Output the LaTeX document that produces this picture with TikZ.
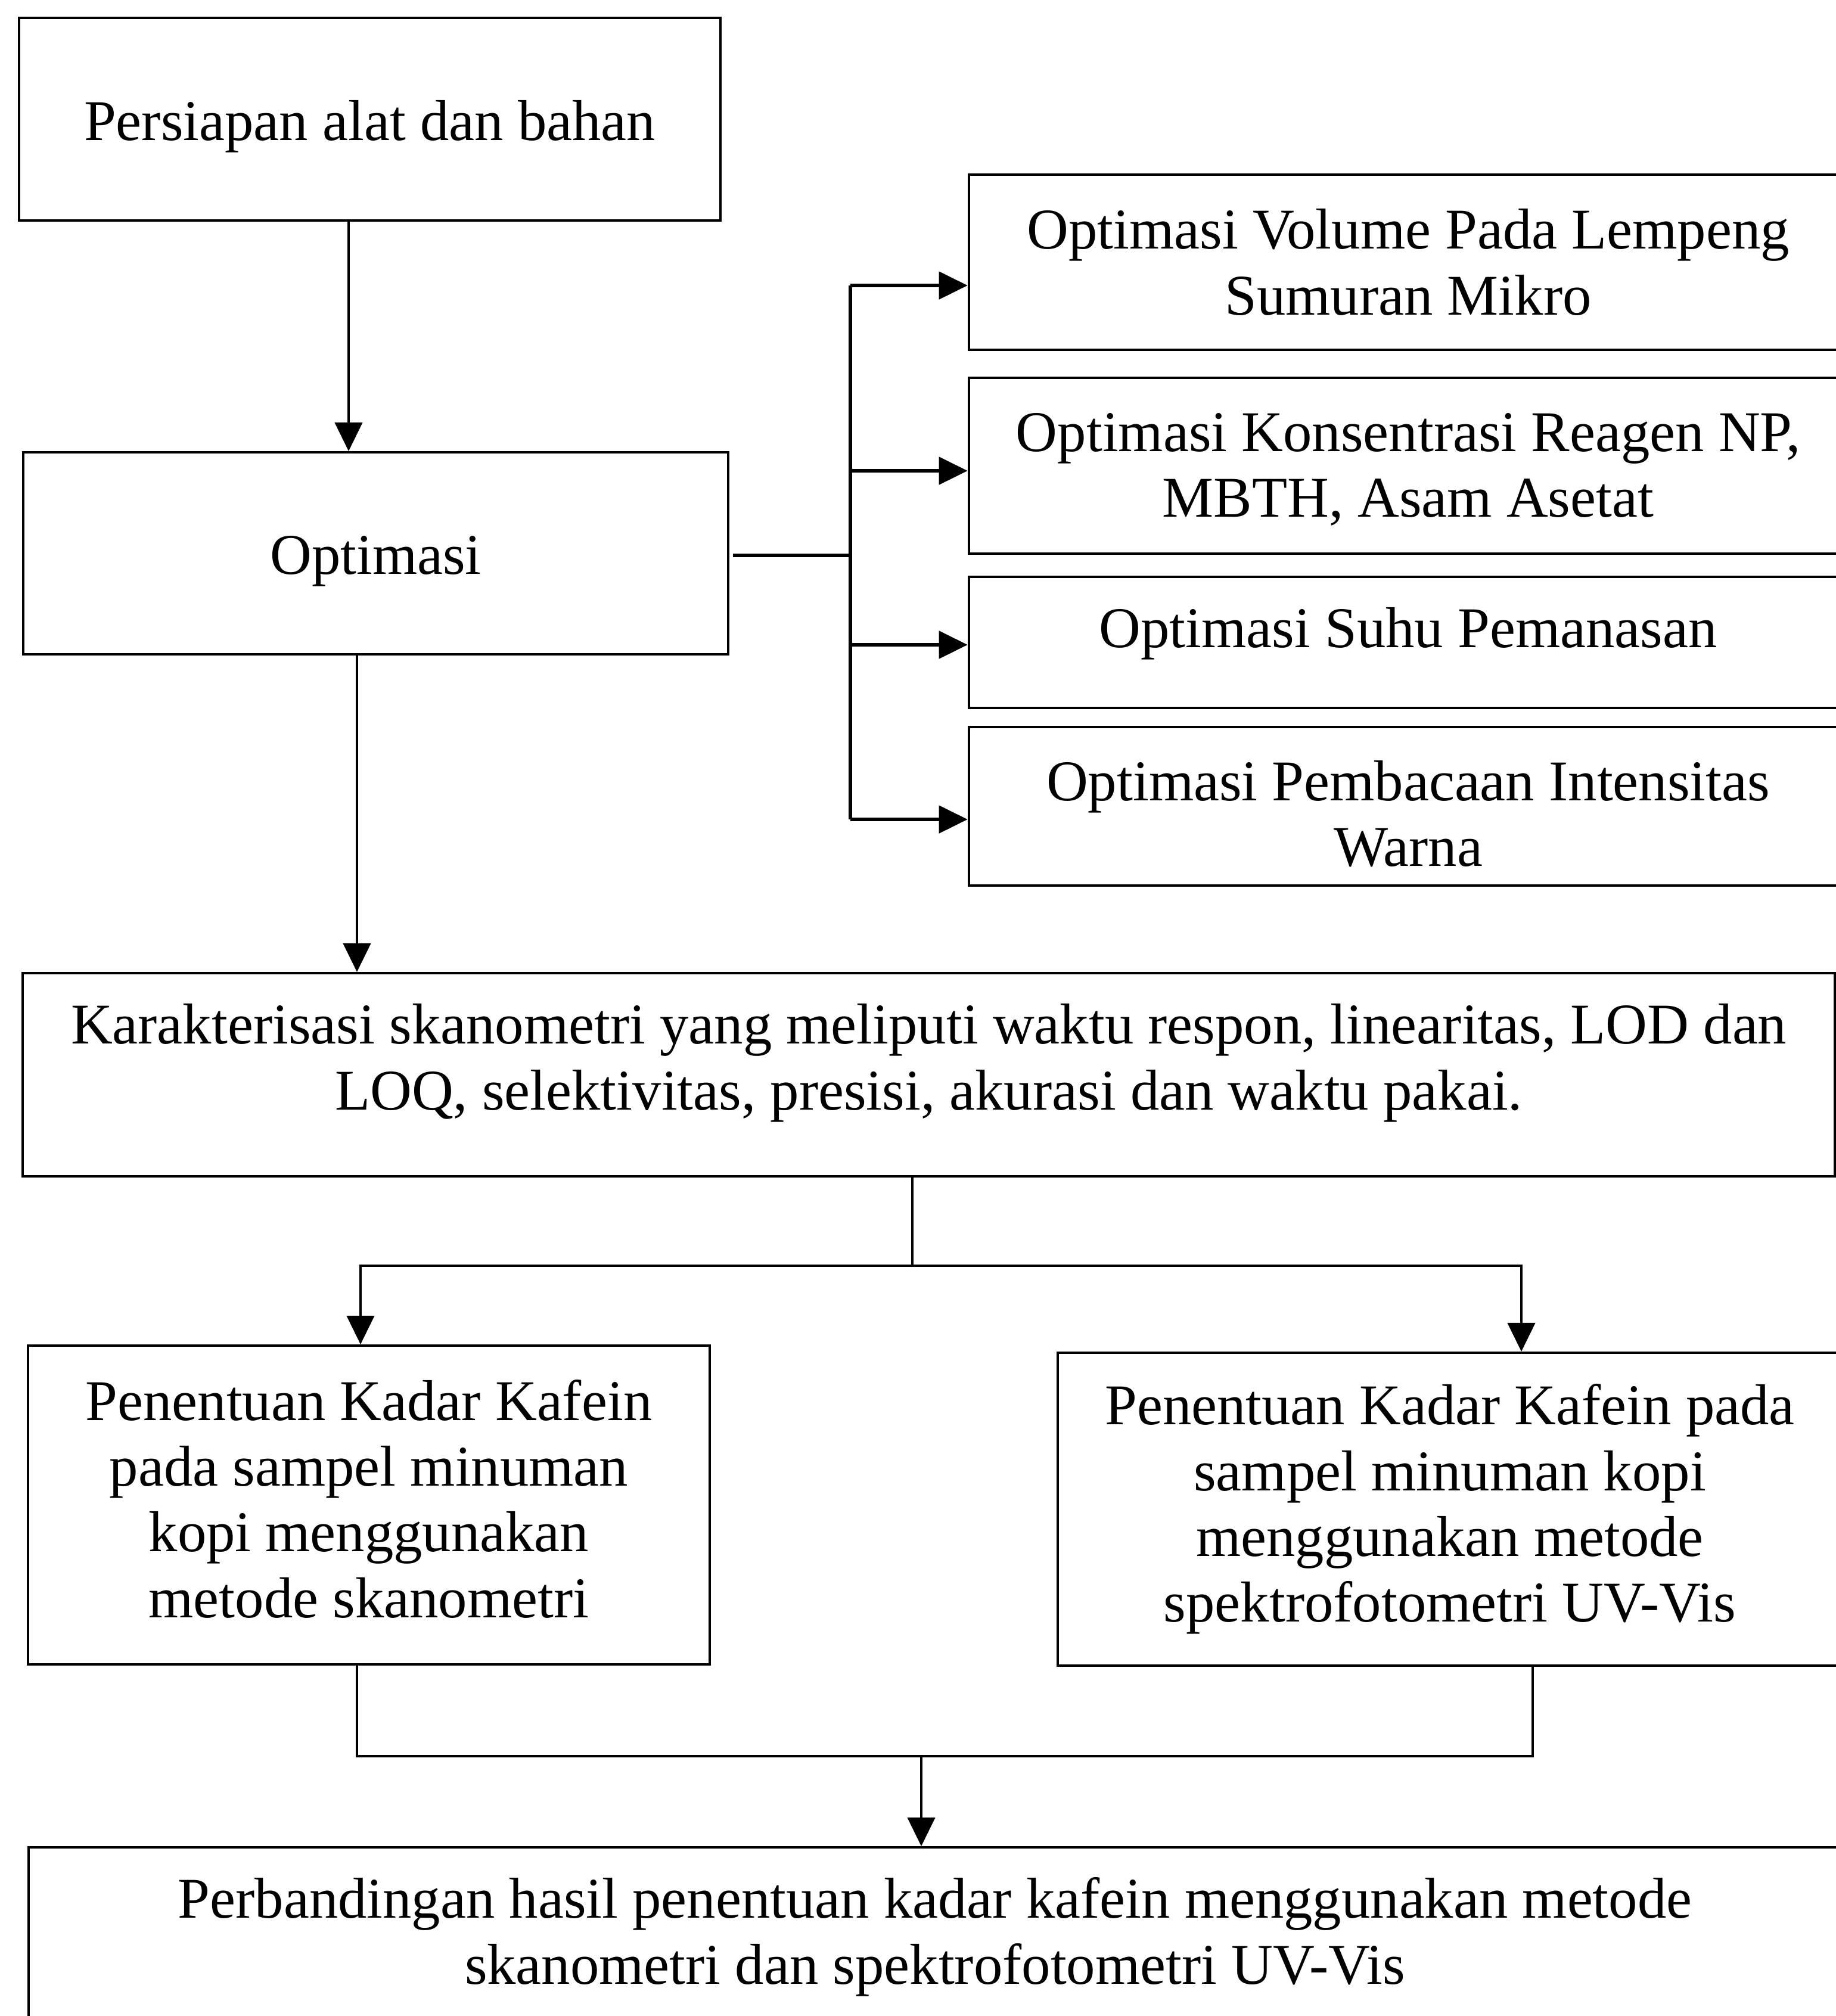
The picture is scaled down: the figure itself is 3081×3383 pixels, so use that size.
\documentclass[tikz,border=0pt]{standalone}
\usepackage{fontspec}
\setmainfont{Liberation Serif}
\usetikzlibrary{arrows.meta}
\begin{document}
\begin{tikzpicture}[x=0.01cm,y=-0.01cm,
  box/.style={draw=black,line width=1.1pt,rectangle,inner sep=0pt,align=center,
    font=\fontsize{27.5}{31.4}\selectfont},
  conn/.style={draw=black,line width=1.2pt},
  arr/.style={conn,-{Triangle[length=0.48cm,width=0.46cm]}},
  branch/.style={draw=black,line width=1.5pt},
  barr/.style={branch,-{Triangle[length=0.48cm,width=0.46cm]}}]
\useasboundingbox (0,0) rectangle (3081,3383);
\clip (0,0) rectangle (3081,3383);
\fill[white] (0,0) rectangle (3081,3383);

% boxes
\node[box,minimum width=11.77cm,minimum height=3.40cm,text height=26pt] (b1) at (620.5,200) {Persiapan alat dan bahan};
\node[box,minimum width=11.83cm,minimum height=3.39cm,text height=26pt] (b2) at (630.5,928.5) {Optimasi};
\node[box,minimum width=14.74cm,minimum height=2.94cm] (r1) at (2363,440) {Optimasi Volume Pada Lempeng\\Sumuran Mikro};
\node[box,minimum width=14.74cm,minimum height=2.95cm,text depth=0.5pt] (r2) at (2363,781.5) {Optimasi Konsentrasi Reagen NP,\\MBTH, Asam Asetat};
\node[box,minimum width=14.74cm,minimum height=2.20cm,text depth=14pt] (r3) at (2363,1078) {Optimasi Suhu Pemanasan};
\node[box,minimum width=14.74cm,minimum height=2.66cm,text height=57.6pt] (r4) at (2363,1353) {Optimasi Pembacaan Intensitas\\Warna};
\node[box,minimum width=30.39cm,minimum height=3.41cm,text depth=17pt] (K) at (1558.5,1803.5) {Karakterisasi skanometri yang meliputi waktu respon, linearitas, LOD dan\\LOQ, selektivitas, presisi, akurasi dan waktu pakai.};
\node[box,minimum width=11.44cm,minimum height=5.35cm,text depth=6.2pt] (P1) at (619,2525.5) {Penentuan Kadar Kafein\\pada sampel minuman\\kopi menggunakan\\metode skanometri};
\node[box,minimum width=13.16cm,minimum height=5.25cm] (P2) at (2433,2532.5) {Penentuan Kadar Kafein pada\\sampel minuman kopi\\menggunakan metode\\spektrofotometri UV-Vis};
\node[box,minimum width=30.40cm,minimum height=3.00cm] (B) at (1569,3250) {Perbandingan hasil penentuan kadar kafein menggunakan metode\\skanometri dan spektrofotometri UV-Vis};

% connectors
\draw[arr] (585,0 |- b1.south) -- (585,0 |- b2.north);

\coordinate (hub) at (1427,932);
\coordinate (a1) at ([yshift=-0.39cm]r1.west);
\coordinate (a2) at ([yshift=-0.085cm]r2.west);
\coordinate (a3) at ([yshift=-0.04cm]r3.west);
\coordinate (a4) at ([yshift=-0.22cm]r4.west);
\draw[branch] ([xshift=0.06cm]b2.east |- hub) -- (hub);
\draw[branch] (hub |- a1) -- (hub |- a4);
\draw[barr] (hub |- a1) -- (a1);
\draw[barr] (hub |- a2) -- (a2);
\draw[barr] (hub |- a3) -- (a3);
\draw[barr] (hub |- a4) -- (a4);

\draw[arr] (599,0 |- b2.south) -- (599,0 |- K.north);

\coordinate (j1) at (1531,2124);
\draw[conn] (j1 |- K.south) -- (j1);
\draw[arr] (j1) -| (605,0 |- P1.north);
\draw[arr] (j1) -| (2553,0 |- P2.north);

\coordinate (j2) at (1546,2947);
\draw[conn] (599,0 |- P1.south) |- (j2);
\draw[conn] (2572,0 |- P2.south) |- (j2);
\draw[arr] (j2) -- (j2 |- B.north);
\end{tikzpicture}
\end{document}
